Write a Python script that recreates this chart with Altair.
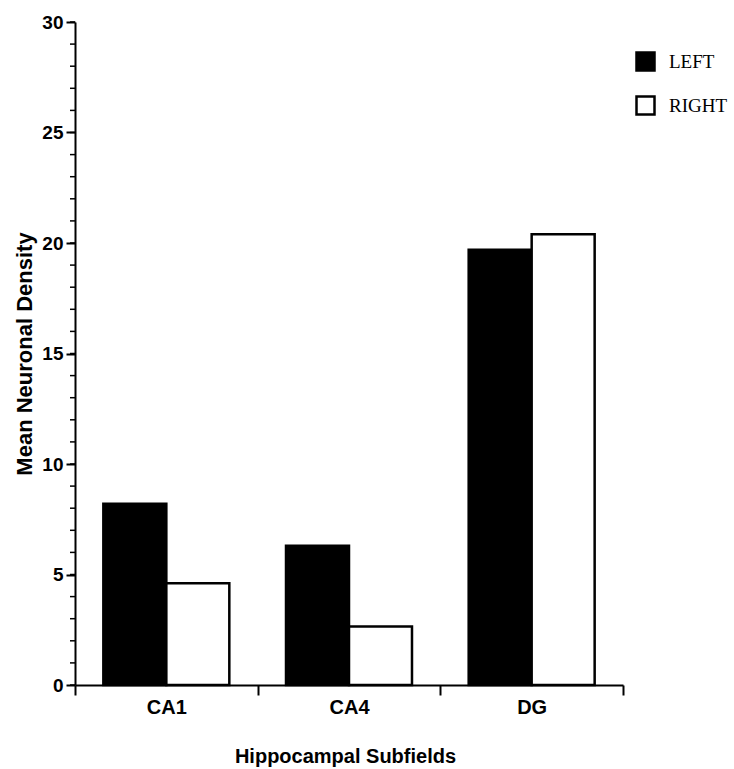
import altair as alt
import pandas as pd

# Mean neuronal density per hippocampal subfield, by hemisphere
subfields = ["CA1", "CA4", "DG"]
left_density = [8.2, 6.3, 19.7]
right_density = [4.6, 2.65, 20.4]
sides = ["LEFT", "RIGHT"]
major_ticks = [0, 5, 10, 15, 20, 25, 30]
minor_ticks = list(range(0, 31))

rows = []
for i, s in enumerate(subfields):
    rows.append({"subfield": s, "side": "LEFT", "density": left_density[i]})
    rows.append({"subfield": s, "side": "RIGHT", "density": right_density[i]})
df = pd.DataFrame(rows)
minor_df = pd.DataFrame({"v": minor_ticks})

y_scale = alt.Scale(domain=[0, 30], nice=False, zero=True)

bars = alt.Chart(df).mark_bar(stroke="black", strokeWidth=2.5).encode(
    x=alt.X(
        "subfield:N",
        sort=subfields,
        scale=alt.Scale(paddingInner=0, paddingOuter=0),
        axis=alt.Axis(
            title="Hippocampal Subfields",
            labelAngle=0,
            tickBand="extent",
            tickSize=10,
            tickWidth=2,
            tickColor="black",
            domainColor="black",
            domainWidth=2,
            labelFont="Liberation Sans",
            labelFontWeight="bold",
            labelFontSize=20,
            labelColor="black",
            labelPadding=2,
            titleFont="Liberation Sans",
            titleFontWeight="bold",
            titleFontSize=20,
            titleColor="black",
            titleBaseline="top",
            titleX=270,
            titleY=61,
        ),
    ),
    # bars of a group sit side by side in the middle of their band
    xOffset=alt.XOffset(
        "side:N", sort=sides, scale=alt.Scale(paddingInner=0, paddingOuter=0.45)
    ),
    y=alt.Y(
        "density:Q",
        scale=y_scale,
        axis=alt.Axis(
            title="Mean Neuronal Density",
            values=major_ticks,
            grid=False,
            tickSize=9,
            tickWidth=2,
            tickColor="black",
            domainColor="black",
            domainWidth=2,
            labelFont="Liberation Sans",
            labelFontWeight="bold",
            labelFontSize=19,
            labelColor="black",
            labelPadding=3,
            titleFont="Liberation Sans",
            titleFontWeight="bold",
            titleFontSize=22,
            titleColor="black",
            titlePadding=5,
        ),
    ),
    fill=alt.Fill(
        "side:N",
        sort=sides,
        scale=alt.Scale(domain=sides, range=["black", "white"]),
        legend=alt.Legend(
            title=None,
            orient="none",
            legendX=560,
            legendY=29,
            symbolType="square",
            symbolSize=324,
            symbolStrokeColor="black",
            symbolStrokeWidth=2.5,
            labelFont="Liberation Serif",
            labelFontSize=19,
            labelColor="black",
            labelOffset=13,
            rowPadding=15,
        ),
    ),
)

# minor ticks on the value axis, one per unit
minor = alt.Chart(minor_df).mark_rule(color="black", strokeWidth=1.5).encode(
    y=alt.Y("v:Q", scale=y_scale),
    x=alt.value(-5),
    x2=alt.value(0),
)

chart = alt.layer(bars, minor).properties(
    width=548,
    height=663,
    autosize=alt.AutoSizeParams(type="none"),
    padding={"left": 75, "top": 22, "right": 111, "bottom": 84},
).configure(background="white").configure_view(stroke=None)

chart.save("out.html", embed_options={"renderer": "svg", "actions": False})
